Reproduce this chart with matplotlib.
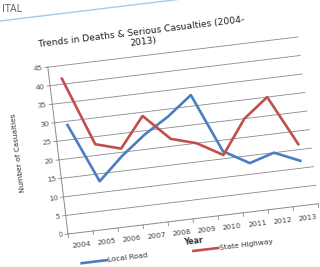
import matplotlib
matplotlib.use('Agg')
import matplotlib.pyplot as plt
from matplotlib.transforms import Affine2D
from matplotlib.lines import Line2D

### data ###
years = ['2004', '2005', '2006', '2007', '2008', '2009', '2010', '2011', '2012', '2013']
local_road = [29, 13, 19, 24, 28, 33, 17, 13, 15, 12]
state_highway = [41.5, 23, 21, 29, 22, 20, 16, 25, 30, 16.5]
yticks = [0, 5, 10, 15, 20, 25, 30, 35, 40, 45]

### plotting parameters ###
ang = 6.9          # the source picture is tilted
blue = '#4a7ec2'
red = '#c0504d'
grid = '#8a8a8a'
txt = '#555555'
fs = 5.3

fig = plt.figure(figsize=(3.2, 2.67), dpi=100)
ax = fig.add_axes([68/320., 33/267., 252/320., 168/267.])
ax.set_xlim(-0.5, len(years) - 0.5)
ax.set_ylim(0, 45)
ax.axis('off')

ox, oy = 68, 33
T = ax.transData + Affine2D().rotate_deg_around(ox, oy, ang)
xs = range(len(years))

# grid and axes
for v in yticks[1:]:
	ax.plot([-0.5, 9.5], [v, v], color=grid, lw=0.6, transform=T, clip_on=False)
ax.plot([-0.5, 9.5], [0, 0], color=grid, lw=0.7, transform=T, clip_on=False)
ax.plot([-0.5, -0.5], [0, 45], color=grid, lw=0.7, transform=T, clip_on=False)
for k in range(len(years) + 1):
	ax.plot([k - 0.5, k - 0.5], [0, -1.0], color=grid, lw=0.6, transform=T, clip_on=False)
for v in yticks:
	ax.plot([-0.62, -0.5], [v, v], color=grid, lw=0.6, transform=T, clip_on=False)
	ax.text(-0.72, v, str(v), ha='right', va='center', rotation=ang, rotation_mode='anchor',
		fontsize=fs, color=txt, transform=T)
for i, y in enumerate(years):
	ax.text(i, -3.3, y, ha='center', va='center', rotation=ang, rotation_mode='anchor',
		fontsize=fs, color='#444444', transform=T)

# series
ax.plot(xs, local_road, color=blue, lw=1.9, transform=T, clip_on=False)
ax.plot(xs, state_highway, color=red, lw=1.9, transform=T, clip_on=False)

# labels
ax.text(3.36, 50, 'Trends in Deaths & Serious Casualties (2004-\n2013)', ha='center', va='center',
	rotation=ang, rotation_mode='anchor', fontsize=6.6, color='#1e1e1e', transform=T,
	multialignment='center', linespacing=1.15)
ax.text(-2.08, 23.2, 'Number of Casualties', ha='center', va='center', rotation=90 + ang,
	rotation_mode='anchor', fontsize=fs, color='#333333', transform=T)
ax.text(4.39, -6.0, 'Year', ha='center', va='center', rotation=ang, rotation_mode='anchor',
	fontsize=fs + 0.3, fontweight='bold', color='#333333', transform=T)

# legend
ax.plot([-0.1, 0.9], [-8.2, -8.2], color=blue, lw=1.9, transform=T, clip_on=False)
ax.text(0.96, -8.2, 'Local Road', ha='left', va='center', rotation=ang, rotation_mode='anchor',
	fontsize=fs, color='#333333', transform=T)
ax.plot([4.36, 5.35], [-8.55, -8.55], color=red, lw=1.9, transform=T, clip_on=False)
ax.text(5.41, -8.55, 'State Highway', ha='left', va='center', rotation=ang, rotation_mode='anchor',
	fontsize=fs, color='#333333', transform=T)

# page header remnant
fig.text(0.006, 0.966, 'ITAL', ha='left', va='center', fontsize=7, color='#666666')
fig.add_artist(Line2D([0, 1], [1 - 21/267., 1 - 21/267. + 320*0.121/267.], transform=fig.transFigure,
	color='#a9c9e2', lw=1.0))

plt.savefig('out.png', dpi=100)
plt.close()
